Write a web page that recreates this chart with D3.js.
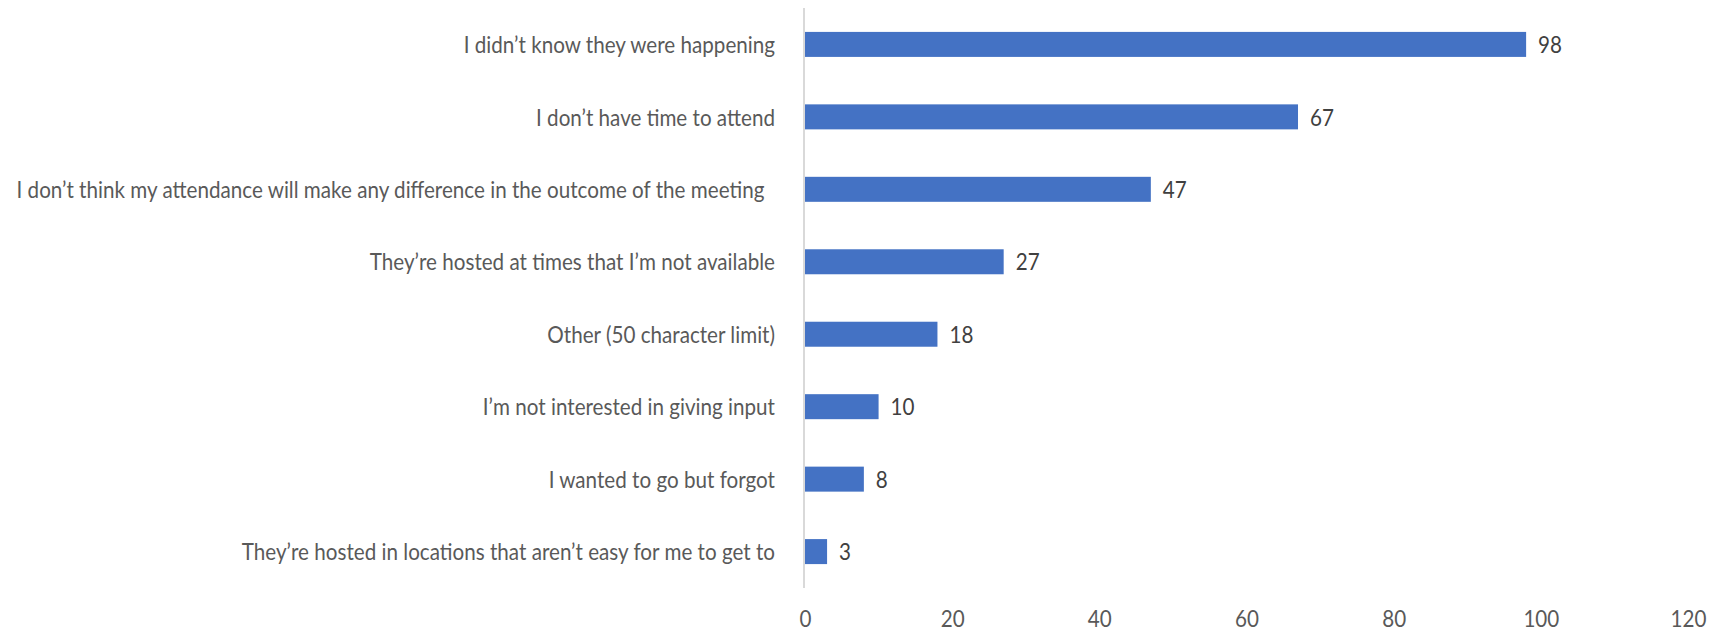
<!DOCTYPE html>
<html>
<head>
<meta charset="utf-8">
<script src="https://cdn.jsdelivr.net/npm/d3@7/dist/d3.min.js"></script>
<style>
  html, body { margin: 0; padding: 0; background: #ffffff; }
  svg { display: block; }
  text { font-family: Lato, "Open Sans", sans-serif; white-space: pre; }
</style>
</head>
<body>
<svg id="chart" width="1718" height="632"></svg>
<script>
// Reasons for not attending public meetings (number of responses)
const categories = [
  "I didn\u2019t know they were happening",
  "I don\u2019t have time to attend",
  "I don\u2019t think my attendance will make any difference in the outcome of the meeting  ",
  "They\u2019re hosted at times that I\u2019m not available",
  "Other (50 character limit)",
  "I\u2019m not interested in giving input",
  "I wanted to go but forgot",
  "They\u2019re hosted in locations that aren\u2019t easy for me to get to"
];
const responses = [98, 67, 47, 27, 18, 10, 8, 3];
const tickValues = [0, 20, 40, 60, 80, 100, 120];

const svg = d3.select("#chart");
const plot = { left: 805, right: 1688, top: 8, bottom: 588 };
const fontSize = 24;
const squeeze = 0.86; // condensed text width

const x = d3.scaleLinear().domain([0, 120]).range([plot.left, plot.right]);
const y = d3.scaleBand().domain(categories).range([plot.top, plot.bottom]).paddingInner(0.655).paddingOuter(0.33);

// Bars
svg.append("g").selectAll("rect")
  .data(categories)
  .join("rect")
  .attr("x", x(0))
  .attr("y", d => y(d))
  .attr("width", (d, i) => x(responses[i]) - x(0))
  .attr("height", y.bandwidth())
  .attr("fill", "#4472C4");

// Value labels
svg.append("g").selectAll("text")
  .data(categories)
  .join("text")
  .attr("transform", (d, i) =>
    `translate(${x(responses[i]) + 12},${y(d) + y.bandwidth() / 2}) scale(${squeeze},1)`)
  .attr("dy", "0.36em")
  .attr("font-size", fontSize)
  .attr("fill", "#404040")
  .text((d, i) => responses[i]);

// Category axis (left)
const yPad = 30;
const yAxis = svg.append("g")
  .attr("transform", `translate(${x(0)},0)`)
  .call(d3.axisLeft(y).tickSize(0).tickPadding(yPad));
yAxis.select(".domain").attr("stroke", "#d9d9d9").attr("stroke-width", 2)
  .attr("d", `M-1,${plot.top}V${plot.bottom}`);
yAxis.selectAll(".tick text")
  .attr("x", 0)
  .attr("transform", `translate(${-yPad},0) scale(${squeeze},1)`)
  .attr("font-size", fontSize)
  .attr("fill", "#595959")
  .attr("dy", "0.36em");

// Value axis (bottom), labels only
const xPad = 22;
const xAxis = svg.append("g")
  .attr("transform", `translate(0,${plot.bottom})`)
  .call(d3.axisBottom(x).tickValues(tickValues).tickSize(0).tickPadding(xPad));
xAxis.select(".domain").remove();
xAxis.selectAll(".tick text")
  .attr("y", 0)
  .attr("transform", `translate(0,${xPad}) scale(${squeeze},1)`)
  .attr("font-size", fontSize)
  .attr("fill", "#595959");
</script>
</body>
</html>
